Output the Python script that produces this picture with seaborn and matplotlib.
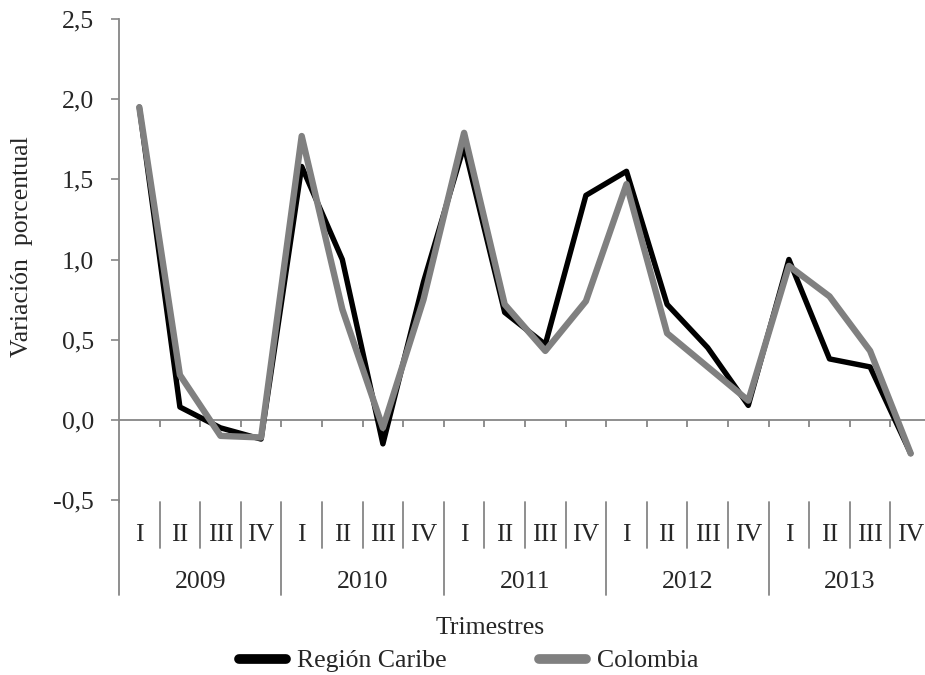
import numpy as np
import pandas as pd
import matplotlib
matplotlib.use("Agg")
import matplotlib.pyplot as plt
import matplotlib.ticker as mticker
import seaborn as sns

# datos
years = ["2009", "2010", "2011", "2012", "2013"]
quarters = ["I", "II", "III", "IV"]
caribe = [1.95, 0.08, -0.05, -0.12,
          1.58, 1.00, -0.15, 0.86,
          1.71, 0.67, 0.47, 1.40,
          1.55, 0.72, 0.45, 0.09,
          1.00, 0.38, 0.33, -0.21]
colombia = [1.95, 0.28, -0.10, -0.11,
            1.77, 0.69, -0.05, 0.75,
            1.79, 0.72, 0.43, 0.74,
            1.47, 0.54, 0.33, 0.12,
            0.96, 0.77, 0.43, -0.21]

n = len(caribe)
df = pd.DataFrame({
    "pos": list(range(n)) * 2,
    "valor": caribe + colombia,
    "serie": ["Región Caribe"] * n + ["Colombia"] * n,
})

sns.set_style("white")
plt.rcParams["font.family"] = ["Liberation Serif", "DejaVu Serif"]
fs = 18.5
axcol = "#868686"

fig = plt.figure(figsize=(9.25, 6.75), dpi=100)
ax = fig.add_axes([119 / 925, 175 / 675, 812 / 925, 481 / 675])

sns.lineplot(data=df[df.serie == "Región Caribe"], x="pos", y="valor", color="black",
             lw=3.9, ax=ax, label="Región Caribe", solid_capstyle="round", solid_joinstyle="round")
sns.lineplot(data=df[df.serie == "Colombia"], x="pos", y="valor", color="#808080",
             lw=4.6, ax=ax, label="Colombia", solid_capstyle="round", solid_joinstyle="round")

ax.set_xlim(-0.5, n - 0.5)
ax.set_ylim(-0.5, 2.5)
ax.set_yticks(np.arange(-0.5, 2.51, 0.5))
ax.yaxis.set_major_formatter(mticker.FuncFormatter(lambda v, p: f"{v:.1f}".replace(".", ",")))
ax.tick_params(axis="y", direction="out", length=6, width=1.2, color=axcol,
               labelsize=fs, pad=12, left=True)
ax.set_xticks([])
ax.set_xlabel("")
ax.set_ylabel("Variación  porcentual", fontsize=fs)
ax.yaxis.set_label_coords(-0.106, 0.526)

for s in ["top", "right", "bottom"]:
    ax.spines[s].set_visible(False)
ax.spines["left"].set_color(axcol)
ax.spines["left"].set_linewidth(1.3)

# eje de categorias en cero con marcas
ax.axhline(0, color=axcol, lw=1.3, zorder=1)
bounds = np.arange(0.5, n - 0.5, 1)
ax.vlines(bounds, 0, -0.045, color=axcol, lw=1.3, zorder=1)

# etiquetas de categorias en dos niveles
trans = ax.get_xaxis_transform()
for i in range(n):
    ax.text(i, -0.073, quarters[i % 4], transform=trans, ha="center", va="center",
            fontsize=fs, clip_on=False)
for k, yr in enumerate(years):
    ax.text(4 * k + 1.5, -0.1705, yr, transform=trans, ha="center", va="center",
            fontsize=fs, clip_on=False)
for b in np.arange(-0.5, n, 1):
    bottom = -0.1975 if (b + 0.5) % 4 == 0 else -0.0998
    ax.plot([b, b], [-0.004, bottom], transform=trans, color=axcol, lw=1.3, clip_on=False)
ax.plot([-0.5, -0.5], [0, -0.004], transform=trans, color=axcol, lw=1.3, clip_on=False)

fig.text(490 / 925, 1 - 628 / 675, "Trimestres", ha="center", va="center", fontsize=fs)

ax.get_legend().remove()
handles, labels = ax.get_legend_handles_labels()
fig.legend(handles, labels, loc="center", bbox_to_anchor=(0.5 + 6 / 925, 1 - 661 / 675), ncol=2,
           frameon=False, fontsize=fs, handlelength=1.85, handletextpad=0.4,
           columnspacing=3.6, borderpad=0)
for h in fig.legends[0].get_lines():
    h.set_linewidth(7)
    h.set_solid_capstyle("round")

fig.savefig("out.png", dpi=100)
